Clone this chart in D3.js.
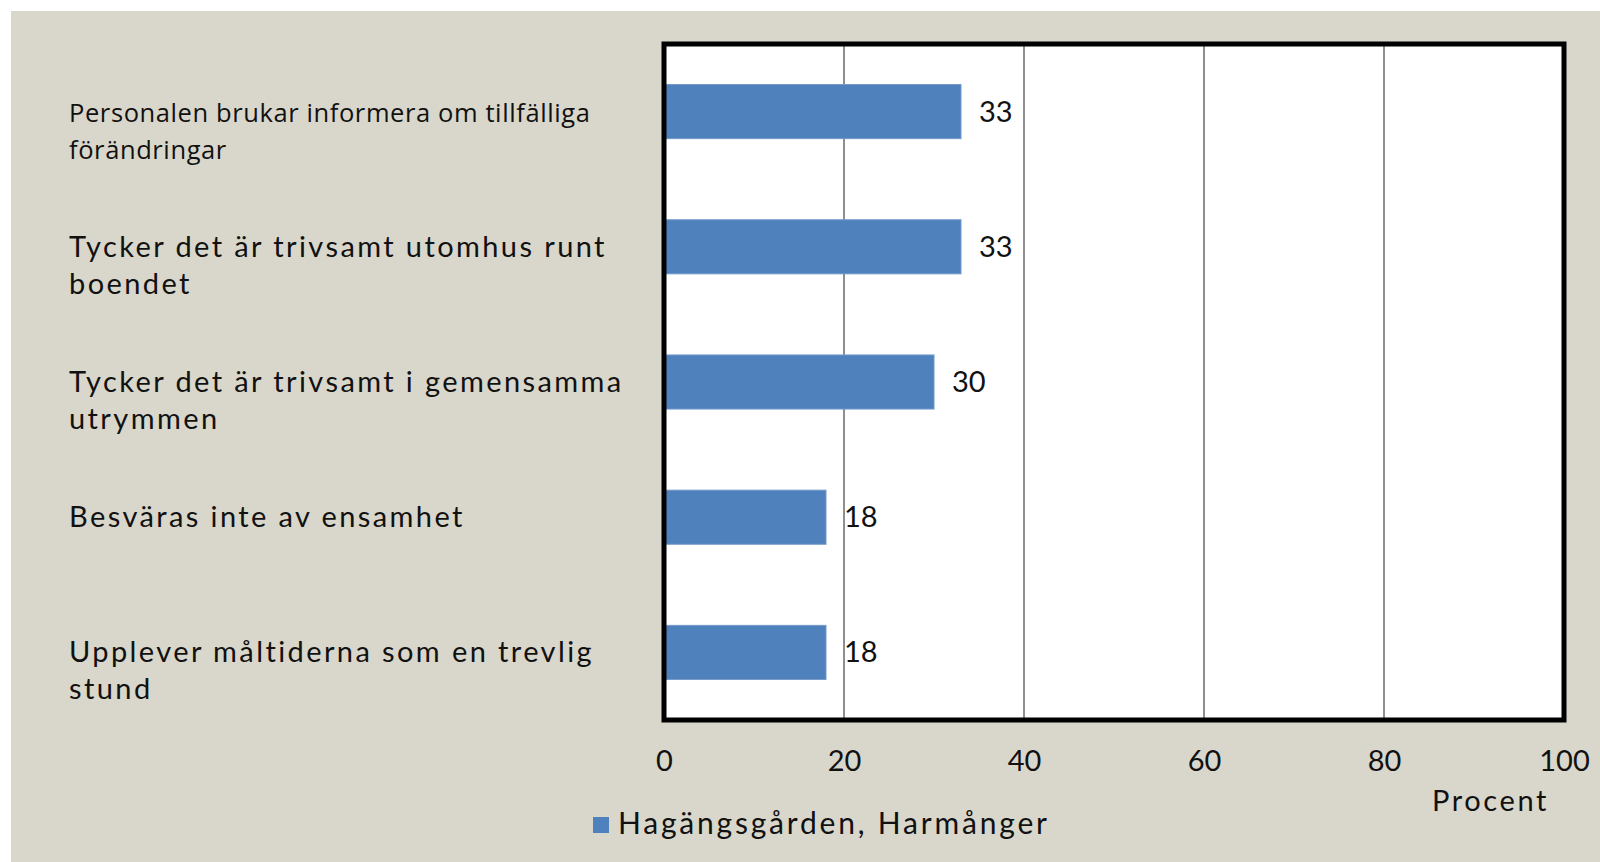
<!DOCTYPE html>
<meta charset="utf-8">
<style>
    body { margin: 0; background: #ffffff; }
    text { fill: #111111; }
</style>
<script src="https://d3js.org/d3.v7.min.js"></script>
<body>
<div id="chart"></div>
<script>

    // category labels (one entry per line of text), top to bottom
    var categories = [
        ["Personalen brukar informera om tillfälliga", "förändringar"],
        ["Tycker det är trivsamt utomhus runt", "boendet"],
        ["Tycker det är trivsamt i gemensamma", "utrymmen"],
        ["Besväras inte av ensamhet"],
        ["Upplever måltiderna som en trevlig", "stund"]
    ];
    var values = [33, 33, 30, 18, 18];
    var ticks = [0, 20, 40, 60, 80, 100];
    var seriesName = "Hagängsgården, Harmånger";
    var axisTitle = "Procent";

    var W = 1600, H = 862;
    var plot = {left: 664, right: 1564, top: 44, bottom: 720};

    var svg = d3.select("#chart").append("svg")
        .attr("width", W)
        .attr("height", H);

    // beige panel
    svg.append("rect")
        .attr("x", 11).attr("y", 11)
        .attr("width", W - 11).attr("height", H - 11)
        .style("fill", "#d9d7cb");

    var x = d3.scaleLinear()
        .domain([0, 100])
        .range([plot.left, plot.right]);

    var y = d3.scaleBand()
        .domain(d3.range(categories.length))
        .range([plot.top, plot.bottom])
        .paddingInner(0.6)
        .paddingOuter(0.3);

    // white plot area
    svg.append("rect")
        .attr("x", plot.left).attr("y", plot.top)
        .attr("width", plot.right - plot.left)
        .attr("height", plot.bottom - plot.top)
        .style("fill", "#ffffff");

    // vertical gridlines
    svg.append("g").selectAll("line")
        .data(ticks.filter(function (t) { return t > 0 && t < 100; }))
        .enter().append("line")
        .attr("x1", function (d) { return x(d); })
        .attr("x2", function (d) { return x(d); })
        .attr("y1", plot.top)
        .attr("y2", plot.bottom)
        .style("stroke", "#8f8f8f")
        .style("stroke-width", 2);

    // bars
    svg.append("g").selectAll("rect")
        .data(values)
        .enter().append("rect")
        .attr("x", x(0))
        .attr("y", function (d, i) { return y(i); })
        .attr("width", function (d) { return x(d) - x(0); })
        .attr("height", y.bandwidth())
        .style("fill", "#4f81bd")
        .style("stroke", "#7399c8")
        .style("stroke-width", 1);

    // frame
    svg.append("rect")
        .attr("x", plot.left).attr("y", plot.top)
        .attr("width", plot.right - plot.left)
        .attr("height", plot.bottom - plot.top)
        .style("fill", "none")
        .style("stroke", "#000000")
        .style("stroke-width", 5);

    // value labels
    svg.append("g").selectAll("text")
        .data(values)
        .enter().append("text")
        .attr("x", function (d) { return x(d) + 18; })
        .attr("y", function (d, i) { return y(i) + y.bandwidth() / 2 + 10; })
        .style("font-family", "Lato")
        .style("font-size", "29px")
        .text(function (d) { return d; });

    // category labels (first one is set in a different face, as in the original)
    var cat = svg.append("g").selectAll("text")
        .data(categories)
        .enter().append("text")
        .attr("x", 69)
        .attr("y", function (d, i) { return y(i) + y.bandwidth() / 2 + 10; })
        .style("font-family", function (d, i) { return i === 0 ? "Open Sans" : "Lato"; })
        .style("font-size", function (d, i) { return i === 0 ? "25.5px" : "29px"; })
        .style("letter-spacing", function (d, i) { return i === 0 ? "0.6px" : "2.4px"; });
    cat.selectAll("tspan")
        .data(function (d) { return d; })
        .enter().append("tspan")
        .attr("x", 69)
        .attr("dy", function (d, j) { return j === 0 ? 0 : 37; })
        .text(function (d) { return d; });

    // x axis tick labels
    var xAxis = d3.axisBottom(x).tickValues(ticks).tickSize(0).tickPadding(0);
    var gx = svg.append("g")
        .attr("transform", "translate(0," + plot.bottom + ")")
        .call(xAxis);
    gx.select(".domain").remove();
    gx.selectAll("text")
        .attr("y", 51)
        .attr("dy", 0)
        .style("font-family", "Lato")
        .style("font-size", "29px")
        .style("fill", "#111111");

    // axis title
    svg.append("text")
        .attr("x", 1432)
        .attr("y", 811)
        .style("font-family", "Lato")
        .style("font-size", "29px")
        .style("letter-spacing", "2.6px")
        .text(axisTitle);

    // legend
    svg.append("rect")
        .attr("x", 593).attr("y", 817)
        .attr("width", 16).attr("height", 16)
        .style("fill", "#4f81bd");
    svg.append("text")
        .attr("x", 618)
        .attr("y", 834)
        .style("font-family", "Lato")
        .style("font-size", "30px")
        .style("letter-spacing", "2.8px")
        .text(seriesName);

</script>
</body>
